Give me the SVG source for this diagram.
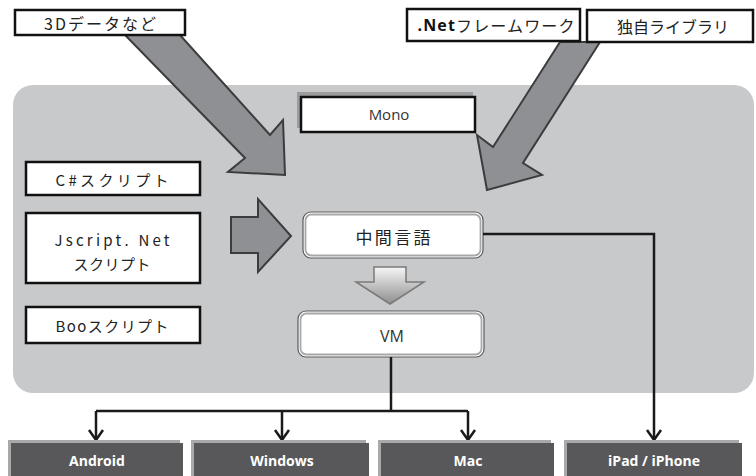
<svg xmlns="http://www.w3.org/2000/svg" width="756" height="476" viewBox="0 0 756 476">
<defs>
<style>
.jp{font-family:"Noto Sans CJK JP","Noto Sans",sans-serif;fill:#222;text-anchor:middle;dominant-baseline:central}
.lat{font-family:"Open Sans","Liberation Sans",sans-serif;fill:#333;text-anchor:middle;dominant-baseline:central}
.wbox{fill:#fff;stroke:#111;stroke-width:2.5}
.shadow{fill:#9c9c9c}
.big{fill:#8f9094;stroke:#3c3c3e;stroke-width:2;stroke-linejoin:miter}
.plat{fill:#58585a}
.pshadow{fill:#a9a9ab}
.ptxt{font-family:"Open Sans","Liberation Sans",sans-serif;font-weight:bold;font-size:14px;fill:#fff;text-anchor:middle;dominant-baseline:central}
.conn{fill:none;stroke:#1a1a1a;stroke-width:2.5}
</style>
<linearGradient id="dg" x1="0" y1="0" x2="0" y2="1">
<stop offset="0" stop-color="#f6f6f6"/>
<stop offset="1" stop-color="#8e8e8e"/>
</linearGradient>
<marker id="ah" viewBox="-2 -10 14 20" refX="10" refY="0" markerWidth="14" markerHeight="20" markerUnits="userSpaceOnUse" orient="auto">
<path d="M0,-7 L10,0 L0,7" fill="none" stroke="#1a1a1a" stroke-width="2.5"/>
</marker>
</defs>

<rect id="panel" x="13" y="85" width="741" height="308" rx="20" fill="#c8c9cb"/>

<g id="arrows-big">
<polygon class="big" points="125,35 180,35 270,135 283,120 285,175 228,172 245,158"/>
<polygon class="big" points="560,42 600,42 523,163 542,175 487,190 477,135 493,147"/>
<polygon class="big" points="231,217 258,217 258,199 291,236 258,272 258,253 231,253"/>
<polygon points="374,267 406,267 406,282 424,282 390,304 356,282 374,282" fill="url(#dg)" stroke="#7a7a7a" stroke-width="1.5"/>
</g>

<g id="n3d">
<rect class="wbox" x="15" y="10" width="170" height="25"/>
<text class="jp" x="100" y="23" font-size="16" textLength="112" lengthAdjust="spacing">3Dデータなど</text>
</g>

<g id="nnet">
<rect class="wbox" x="407" y="9" width="173" height="32"/>
<text class="jp" x="496" y="25" font-size="16" textLength="157" lengthAdjust="spacing"><tspan font-family="Open Sans, sans-serif" font-weight="bold" fill="#111">.Net</tspan>フレームワーク</text>
</g>

<g id="nlib">
<rect class="wbox" x="587" y="10" width="166" height="32"/>
<text class="jp" x="673" y="26" font-size="16" textLength="112" lengthAdjust="spacing">独自ライブラリ</text>
</g>

<g id="nmono">
<rect class="shadow" x="297" y="92" width="176" height="36"/>
<rect class="wbox" x="301" y="97" width="174" height="35"/>
<text class="lat" x="389" y="114" font-size="15">Mono</text>
</g>

<g id="ncs">
<rect class="wbox" x="26" y="162" width="174" height="33"/>
<text class="jp" x="112" y="179" font-size="15" textLength="113" lengthAdjust="spacing">C#スクリプト</text>
</g>

<g id="njs">
<rect class="wbox" x="26" y="213" width="174" height="70"/>
<text class="jp" x="112" y="239" font-size="15" textLength="115" lengthAdjust="spacing">Jscript. Net</text>
<text class="jp" x="112" y="263" font-size="15" textLength="77" lengthAdjust="spacing">スクリプト</text>
</g>

<g id="nboo">
<rect class="wbox" x="26" y="307" width="174" height="36"/>
<text class="jp" x="112" y="325" font-size="15" textLength="113" lengthAdjust="spacing">Booスクリプト</text>
</g>

<g id="nil">
<rect x="303" y="212" width="180" height="46" rx="8" fill="#fff" stroke="#5a5a5a" stroke-width="1.2"/>
<rect x="305.5" y="214.5" width="175" height="41" rx="6" fill="none" stroke="#a8a8a8" stroke-width="1.8"/>
<text class="jp" x="393" y="236" font-size="17" textLength="75" lengthAdjust="spacing">中間言語</text>
</g>

<g id="nvm">
<rect x="298" y="311" width="186" height="46" rx="8" fill="#fff" stroke="#5a5a5a" stroke-width="1.2"/>
<rect x="300.5" y="313.5" width="181" height="41" rx="6" fill="none" stroke="#a8a8a8" stroke-width="1.8"/>
<text class="lat" x="392" y="336" font-size="16" fill="#222">VM</text>
</g>

<g id="connectors">
<path class="conn" d="M391,357 V411"/>
<path class="conn" d="M96,411 H468"/>
<path class="conn" d="M96,411 V440" marker-end="url(#ah)"/>
<path class="conn" d="M282,411 V440" marker-end="url(#ah)"/>
<path class="conn" d="M468,411 V440" marker-end="url(#ah)"/>
<path class="conn" d="M483,234 H654 V440" marker-end="url(#ah)"/>
</g>

<g id="nandroid">
<rect class="pshadow" x="8" y="440" width="172" height="40"/>
<rect class="plat" x="11" y="443" width="172" height="40"/>
<text class="ptxt" x="97" y="460">Android</text>
</g>
<g id="nwindows">
<rect class="pshadow" x="191" y="440" width="175" height="40"/>
<rect class="plat" x="194" y="443" width="175" height="40"/>
<text class="ptxt" x="282" y="460">Windows</text>
</g>
<g id="nmac">
<rect class="pshadow" x="378" y="440" width="173" height="40"/>
<rect class="plat" x="381" y="443" width="173" height="40"/>
<text class="ptxt" x="468" y="460">Mac</text>
</g>
<g id="nipad">
<rect class="pshadow" x="564" y="440" width="175" height="40"/>
<rect class="plat" x="567" y="443" width="175" height="40"/>
<text class="ptxt" x="654" y="460">iPad / iPhone</text>
</g>
</svg>
